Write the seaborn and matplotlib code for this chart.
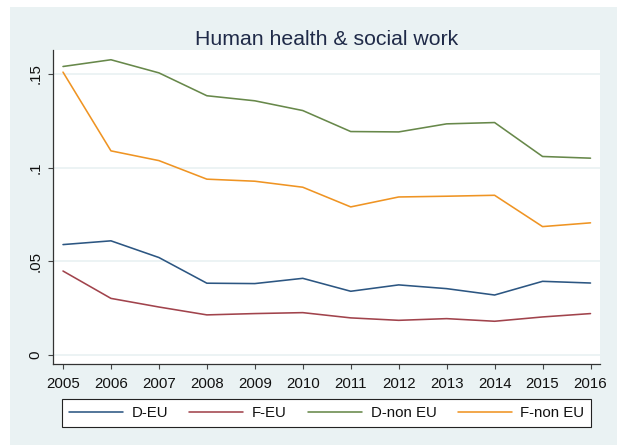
import matplotlib
matplotlib.use("Agg")
import matplotlib.pyplot as plt
from matplotlib.patches import Rectangle
import seaborn as sns
import pandas as pd

years = [2005, 2006, 2007, 2008, 2009, 2010, 2011, 2012, 2013, 2014, 2015, 2016]
d_eu = [0.0589, 0.0609, 0.0520, 0.0383, 0.0381, 0.0409, 0.0340, 0.0374, 0.0354, 0.0320, 0.0393, 0.0384]
f_eu = [0.0448, 0.0302, 0.0256, 0.0214, 0.0221, 0.0226, 0.0198, 0.0185, 0.0194, 0.0180, 0.0203, 0.0221]
d_non_eu = [0.1539, 0.1575, 0.1505, 0.1383, 0.1356, 0.1304, 0.1192, 0.1190, 0.1233, 0.1240, 0.1059, 0.1050]
f_non_eu = [0.1509, 0.1089, 0.1037, 0.0938, 0.0927, 0.0895, 0.0790, 0.0843, 0.0847, 0.0852, 0.0685, 0.0705]

series_names = ["D-EU", "F-EU", "D-non EU", "F-non EU"]
series_values = [d_eu, f_eu, d_non_eu, f_non_eu]
colors = ["#2c5682", "#a1434c", "#67884a", "#ef9423"]
y_ticks = [0, 0.05, 0.1, 0.15]
y_tick_labels = ["0", ".05", ".1", ".15"]
title = "Human health & social work"

df = pd.DataFrame({
    "year": years * len(series_names),
    "share": [v for vals in series_values for v in vals],
    "group": [n for n in series_names for _ in years],
})

sns.set_style("white")
plt.rcParams["font.family"] = ["Liberation Sans", "DejaVu Sans"]

W, H = 617, 446
fig = plt.figure(figsize=(W / 100, H / 100), dpi=100, facecolor="white")

# Light blue-gray graph region behind the plot
bg = "#eaf2f3"
fig.patches.append(Rectangle((10 / W, 1 / H), (W - 10) / W, (H - 8) / H,
                             transform=fig.transFigure, facecolor=bg,
                             edgecolor="none", zorder=-10))

ax = fig.add_axes([53 / W, 1 - 364 / H, 547 / W, 314 / H])
ax.set_facecolor("white")

sns.lineplot(data=df, x="year", y="share", hue="group", hue_order=series_names,
             palette=colors, linewidth=1.15, ax=ax, legend=True)

ax.set_xlim(2004 + 1 - 10 / 48, 2016 + 9.5 / 48)
ax.set_ylim(-0.0048, 0.1627)
ax.set_xticks(years)
ax.set_xticklabels([str(y) for y in years])
ax.set_yticks(y_ticks)
ax.set_yticklabels(y_tick_labels, rotation=90, va="center")

ax.grid(axis="y", color=bg, linewidth=1.3)
ax.set_axisbelow(True)
for side in ["top", "right"]:
    ax.spines[side].set_visible(False)
for side in ["left", "bottom"]:
    ax.spines[side].set_color("#333333")
    ax.spines[side].set_linewidth(0.9)

ax.tick_params(axis="x", length=3.8, width=0.8, color="#444444", pad=5.5,
               labelsize=10.8, labelcolor="#111111", bottom=True)
ax.tick_params(axis="y", length=3.8, width=0.8, color="#444444", pad=4.0,
               labelsize=10.8, labelcolor="#111111", left=True)
ax.set_xlabel("")
ax.set_ylabel("")

ax.set_title(title, fontsize=15.3, color="#1f2a48", pad=3.8)

handles, labels = ax.get_legend_handles_labels()
ax.get_legend().remove()
leg = fig.legend(handles, labels, ncol=4, loc="center",
                 bbox_to_anchor=(326.5 / W, 1 - 413 / H),
                 bbox_transform=fig.transFigure,
                 fontsize=10.8, frameon=True, fancybox=False,
                 edgecolor="#222222", facecolor="white", framealpha=1,
                 handlelength=3.6, handletextpad=0.6, columnspacing=1.4,
                 borderpad=0.45, borderaxespad=0)
leg.get_frame().set_linewidth(0.8)
for t in leg.get_texts():
    t.set_color("#111111")

fig.savefig("out.png", dpi=100, facecolor="white")
